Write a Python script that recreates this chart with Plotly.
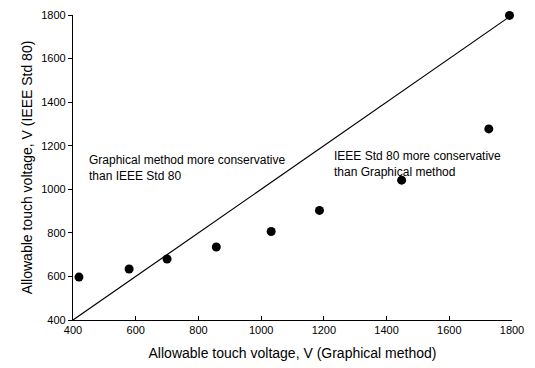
import plotly.graph_objects as go

graphical_v = [419, 579, 700, 857, 1032, 1186, 1448, 1726, 1792]
ieee_v = [597, 634, 680, 735, 806, 903, 1042, 1277, 1798]
equal_line = [400, 1800]
ticks = [400, 600, 800, 1000, 1200, 1400, 1600, 1800]

font_family = "Liberation Sans, Arial, sans-serif"

fig = go.Figure()
fig.add_trace(go.Scatter(x=equal_line, y=equal_line, mode="lines",
                         line=dict(color="black", width=1.2), showlegend=False))
fig.add_trace(go.Scatter(x=graphical_v, y=ieee_v, mode="markers",
                         marker=dict(color="black", size=9), showlegend=False,
                         cliponaxis=False))

fig.add_annotation(x=445, y=1100, xref="x", yref="y", xanchor="left", yanchor="middle",
                   text="Graphical method more conservative<br>than IEEE Std 80",
                   showarrow=False, align="left", font=dict(size=12, color="black"))
fig.add_annotation(x=1226, y=1116, xref="x", yref="y", xanchor="left", yanchor="middle",
                   text="IEEE Std 80 more conservative<br>than Graphical method",
                   showarrow=False, align="left", font=dict(size=12, color="black"))

fig.update_layout(
    width=535, height=368,
    margin=dict(l=73, r=23, t=15, b=48, autoexpand=False),
    plot_bgcolor="white", paper_bgcolor="white",
    font=dict(family=font_family, size=11, color="black"),
)
fig.update_xaxes(range=[400, 1800], tickvals=ticks, showgrid=False, zeroline=False,
                 showline=True, linecolor="black", linewidth=1.2,
                 ticks="inside", ticklen=4, tickcolor="black", automargin=False,
                 title=dict(text="Allowable touch voltage, V (Graphical method)",
                            font=dict(size=14), standoff=12))
fig.update_yaxes(range=[400, 1800], tickvals=ticks, showgrid=False, zeroline=False,
                 showline=True, linecolor="black", linewidth=1.2,
                 ticks="outside", ticklen=4, tickcolor="black", automargin=False,
                 title=dict(text="Allowable touch voltage, V (IEEE Std 80)",
                            font=dict(size=14), standoff=5))

fig.write_html("out.html", config={"displayModeBar": False},
               post_script="document.body.style.margin='0';")
